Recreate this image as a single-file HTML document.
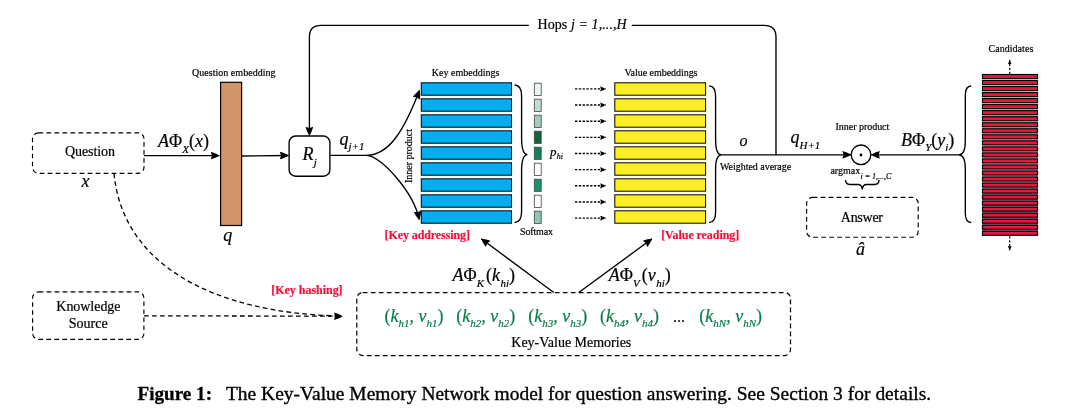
<!DOCTYPE html>
<html><head><meta charset="utf-8"><title>Figure 1</title>
<style>
html,body{margin:0;padding:0;background:#fff;}
svg{display:block;}
text{font-family:"Liberation Serif","Times New Roman",serif;fill:#000;stroke:#000;stroke-width:0.2px;}
.red{stroke:#fa0a38;stroke-width:0.15px}.g{stroke:#0d7d4d}
.s10{font-size:10px}
.s14{font-size:14px}
.red{font-size:12px;font-weight:bold;fill:#fa0a38}
.it{font-style:italic}
.m{font-size:18px}
.g{fill:#0d7d4d}
.ln{stroke:#000;stroke-width:1.35;fill:none}
.dash{stroke:#000;stroke-width:1.15;fill:none;stroke-dasharray:4.7 3.3}
.dash2{stroke:#000;stroke-width:1.3;fill:none;stroke-dasharray:4.7 3.3}
</style></head><body>
<svg width="1080" height="410" viewBox="0 0 1080 410">
<defs>
<marker id="ah" markerUnits="userSpaceOnUse" markerWidth="10" markerHeight="8" refX="8.7" refY="3.8" orient="auto"><path d="M0,0 C3,0.7 6.2,2 8.8,3.8 C6.2,5.6 3,6.9 0,7.6 L1.3,3.8 Z" fill="#000"/></marker>
<marker id="ahs" markerUnits="userSpaceOnUse" markerWidth="7" markerHeight="6" refX="5.6" refY="2.6" orient="auto"><path d="M0,0 L5.8,2.6 L0,5.2 L0.7,2.6 Z" fill="#000"/></marker>
<linearGradient id="gg" x1="0" y1="0" x2="0" y2="1"><stop offset="0" stop-color="#d4d4d4"/><stop offset="0.55" stop-color="#c4c4c4"/><stop offset="0.8" stop-color="#8c8c8c"/><stop offset="1" stop-color="#747474"/></linearGradient>
<marker id="aht" markerUnits="userSpaceOnUse" markerWidth="6" markerHeight="5" refX="4.4" refY="1.9" orient="auto"><path d="M0,0 L4.6,1.9 L0,3.8 L0.5,1.9 Z" fill="#000"/></marker>
</defs>
<rect width="1080" height="410" fill="#fff"/>

<rect x="32.5" y="132.8" width="111.5" height="40.5" rx="6" class="dash"/>
<text x="65" y="156.2" class="s14" textLength="50">Question</text>
<text x="81.5" y="187" class="m it">x</text>
<text x="158" y="147" class="m"><tspan class="it">A</tspan>Φ<tspan class="it" font-size="11" dy="5.6">X</tspan><tspan dy="-5.6">(</tspan><tspan class="it">x</tspan>)</text>
<path d="M144,155.6 L219.4,155.6" class="ln" marker-end="url(#ah)"/>
<rect x="220.6" y="82.3" width="21" height="143.2" fill="#d1956b" stroke="#000" stroke-width="1.2"/>
<text x="192" y="76" class="s10" textLength="83.5">Question embedding</text>
<text x="223.3" y="241.3" class="m it">q</text>
<path d="M242,156 L288.5,155.5" class="ln" marker-end="url(#ah)"/>
<rect x="289.1" y="136" width="40.8" height="40.2" rx="6.5" class="ln" fill="#fff"/>
<text x="302.5" y="160.1" class="m it">R<tspan font-size="11" dy="6" dx="0.2">j</tspan></text>
<text x="339.5" y="144.8" class="m it">q<tspan font-size="11" dy="5.6">j+1</tspan></text>
<path d="M330.3,155.3 L367,155.3" class="ln"/>
<path d="M366.5,155.3 C389.9,155.3 405,128.2 419.5,90.3" class="ln" marker-end="url(#ah)"/>
<path d="M366.5,155.3 C380.6,155.3 413.9,192.5 419.2,219.6" class="ln" marker-end="url(#ah)"/>
<text transform="translate(411.6,183) rotate(-90)" class="s10" textLength="54">Inner product</text>
<path d="M528.8,25.3 L321,25.3 Q309.4,25.3 309.4,37 L309.4,135.5" class="ln" marker-end="url(#ah)"/>
<path d="M631.8,25.3 L764,25.3 Q776,25.3 776,37 L776,155" class="ln"/>
<text x="537.5" y="29.4" class="s14" textLength="89.2">Hops <tspan class="it">j = 1,...,H</tspan></text>
<text x="431.8" y="75.6" class="s10" textLength="67.5">Key embeddings</text>
<rect x="421.3" y="82.80" width="90.2" height="12.4" fill="#00aeef" stroke="#000" stroke-width="1"/>
<rect x="421.3" y="98.80" width="90.2" height="12.4" fill="#00aeef" stroke="#000" stroke-width="1"/>
<rect x="421.3" y="114.80" width="90.2" height="12.4" fill="#00aeef" stroke="#000" stroke-width="1"/>
<rect x="421.3" y="130.80" width="90.2" height="12.4" fill="#00aeef" stroke="#000" stroke-width="1"/>
<rect x="421.3" y="146.80" width="90.2" height="12.4" fill="#00aeef" stroke="#000" stroke-width="1"/>
<rect x="421.3" y="162.80" width="90.2" height="12.4" fill="#00aeef" stroke="#000" stroke-width="1"/>
<rect x="421.3" y="178.80" width="90.2" height="12.4" fill="#00aeef" stroke="#000" stroke-width="1"/>
<rect x="421.3" y="194.80" width="90.2" height="12.4" fill="#00aeef" stroke="#000" stroke-width="1"/>
<rect x="421.3" y="210.80" width="90.2" height="12.4" fill="#00aeef" stroke="#000" stroke-width="1"/>
<path d="M514.6,85.0 Q521.6,85.0 521.6,96.2 L521.6,138.5 Q521.6,154.1 527.4,154.6 Q521.6,155.1 521.6,170.7 L521.6,211.3 Q521.6,222.5 514.6,222.5" class="ln"/>
<rect x="534.3" y="83.20" width="6.9" height="12.2" fill="#eaf5f0" stroke="#444" stroke-width="0.8"/>
<rect x="534.3" y="99.20" width="6.9" height="12.2" fill="#c2ddd2" stroke="#444" stroke-width="0.8"/>
<rect x="534.3" y="115.20" width="6.9" height="12.2" fill="#a3ccba" stroke="#444" stroke-width="0.8"/>
<rect x="534.3" y="131.20" width="6.9" height="12.2" fill="#0c6638" stroke="#444" stroke-width="0.8"/>
<rect x="534.3" y="147.20" width="6.9" height="12.2" fill="#0e8559" stroke="#444" stroke-width="0.8"/>
<rect x="534.3" y="163.20" width="6.9" height="12.2" fill="#ffffff" stroke="#444" stroke-width="0.8"/>
<rect x="534.3" y="179.20" width="6.9" height="12.2" fill="#1a9368" stroke="#444" stroke-width="0.8"/>
<rect x="534.3" y="195.20" width="6.9" height="12.2" fill="#ffffff" stroke="#444" stroke-width="0.8"/>
<rect x="534.3" y="211.20" width="6.9" height="12.2" fill="#8cc7ae" stroke="#444" stroke-width="0.8"/>
<text x="550" y="156.3" class="it" font-size="13">p<tspan font-size="8" dy="2.4" dx="0.3">hi</tspan></text>
<text x="520" y="234.9" class="s10" textLength="33">Softmax</text>
<path d="M575,88.90 L605.8,88.90" stroke="#000" stroke-width="1.4" stroke-dasharray="2.3 1.5" fill="none" marker-end="url(#ahs)"/>
<path d="M575,105.05 L605.8,105.05" stroke="#000" stroke-width="1.4" stroke-dasharray="2.3 1.5" fill="none" marker-end="url(#ahs)"/>
<path d="M575,121.20 L605.8,121.20" stroke="#000" stroke-width="1.4" stroke-dasharray="2.3 1.5" fill="none" marker-end="url(#ahs)"/>
<path d="M575,137.35 L605.8,137.35" stroke="#000" stroke-width="1.4" stroke-dasharray="2.3 1.5" fill="none" marker-end="url(#ahs)"/>
<path d="M575,153.50 L605.8,153.50" stroke="#000" stroke-width="1.4" stroke-dasharray="2.3 1.5" fill="none" marker-end="url(#ahs)"/>
<path d="M575,169.65 L605.8,169.65" stroke="#000" stroke-width="1.4" stroke-dasharray="2.3 1.5" fill="none" marker-end="url(#ahs)"/>
<path d="M575,185.80 L605.8,185.80" stroke="#000" stroke-width="1.4" stroke-dasharray="2.3 1.5" fill="none" marker-end="url(#ahs)"/>
<path d="M575,201.95 L605.8,201.95" stroke="#000" stroke-width="1.4" stroke-dasharray="2.3 1.5" fill="none" marker-end="url(#ahs)"/>
<path d="M575,218.10 L605.8,218.10" stroke="#000" stroke-width="1.4" stroke-dasharray="2.3 1.5" fill="none" marker-end="url(#ahs)"/>
<text x="624.5" y="75.6" class="s10" textLength="73">Value embeddings</text>
<rect x="614.8" y="82.80" width="90.8" height="12.4" fill="#fcee21" stroke="#000" stroke-width="1"/>
<rect x="614.8" y="98.80" width="90.8" height="12.4" fill="#fcee21" stroke="#000" stroke-width="1"/>
<rect x="614.8" y="114.80" width="90.8" height="12.4" fill="#fcee21" stroke="#000" stroke-width="1"/>
<rect x="614.8" y="130.80" width="90.8" height="12.4" fill="#fcee21" stroke="#000" stroke-width="1"/>
<rect x="614.8" y="146.80" width="90.8" height="12.4" fill="#fcee21" stroke="#000" stroke-width="1"/>
<rect x="614.8" y="162.80" width="90.8" height="12.4" fill="#fcee21" stroke="#000" stroke-width="1"/>
<rect x="614.8" y="178.80" width="90.8" height="12.4" fill="#fcee21" stroke="#000" stroke-width="1"/>
<rect x="614.8" y="194.80" width="90.8" height="12.4" fill="#fcee21" stroke="#000" stroke-width="1"/>
<rect x="614.8" y="210.80" width="90.8" height="12.4" fill="#fcee21" stroke="#000" stroke-width="1"/>
<path d="M709.2,86.0 Q715.6,86.0 715.6,96.2 L715.6,140.1 Q715.6,154.3 721.0,154.8 Q715.6,155.3 715.6,169.5 L715.6,212.3 Q715.6,222.5 709.2,222.5" class="ln"/>
<path d="M720.5,154.8 L851,154.8" class="ln" marker-end="url(#ah)"/>
<text x="739.6" y="145.5" class="it" font-size="16">o</text>
<text x="720" y="170" class="s10" textLength="71.2">Weighted average</text>
<text x="790.5" y="143.1" class="m it">q<tspan font-size="11" dy="6.2">H+1</tspan></text>
<circle cx="861" cy="154.8" r="9.8" class="ln" fill="#fff"/><circle cx="861" cy="155" r="1.4" fill="#000"/>
<text x="835.5" y="129.8" class="s10" textLength="53.8">Inner product</text>
<text x="830.4" y="173.6" class="s10">argmax<tspan class="it" font-size="8" dy="5.4" dx="0.3">i = 1,...,C</tspan></text>
<path d="M845.6,180 Q845.6,184.5 850,184.5 L858,184.5 Q862,184.5 862.3,189.5 Q862.6,184.5 866.6,184.5 L874.6,184.5 Q879,184.5 879,180" class="ln" stroke-width="1"/>
<rect x="806.6" y="197.4" width="111.6" height="39.8" rx="6" class="dash"/>
<text x="840.8" y="222.3" class="s14" textLength="42.2">Answer</text>
<text x="856" y="255" class="m it">â</text>
<text x="901" y="145.5" class="m"><tspan class="it">B</tspan>Φ<tspan class="it" font-size="11" dy="5.6">Y</tspan><tspan dy="-5.6">(</tspan><tspan class="it">y</tspan><tspan class="it" font-size="11" dy="5.2">i</tspan><tspan dy="-5.2">)</tspan></text>
<path d="M959.5,154.8 L871.2,154.8" class="ln" marker-end="url(#ah)"/>
<path d="M971.2,86.0 Q965.3,86.0 965.3,95.4 L965.3,141.2 Q965.3,154.3 959.0,154.8 Q965.3,155.3 965.3,168.4 L965.3,213.1 Q965.3,222.5 971.2,222.5" class="ln"/>
<text x="988.5" y="52" class="s10" textLength="44.8">Candidates</text>
<rect x="982.3" y="74.5" width="55.4" height="160.8" fill="url(#gg)"/>
<rect x="982.5" y="74.50" width="55" height="4" fill="#f0123e" stroke="#000" stroke-width="1.15"/>
<rect x="982.5" y="80.53" width="55" height="4" fill="#f0123e" stroke="#000" stroke-width="1.15"/>
<rect x="982.5" y="86.56" width="55" height="4" fill="#f0123e" stroke="#000" stroke-width="1.15"/>
<rect x="982.5" y="92.59" width="55" height="4" fill="#f0123e" stroke="#000" stroke-width="1.15"/>
<rect x="982.5" y="98.62" width="55" height="4" fill="#f0123e" stroke="#000" stroke-width="1.15"/>
<rect x="982.5" y="104.65" width="55" height="4" fill="#f0123e" stroke="#000" stroke-width="1.15"/>
<rect x="982.5" y="110.68" width="55" height="4" fill="#f0123e" stroke="#000" stroke-width="1.15"/>
<rect x="982.5" y="116.71" width="55" height="4" fill="#f0123e" stroke="#000" stroke-width="1.15"/>
<rect x="982.5" y="122.74" width="55" height="4" fill="#f0123e" stroke="#000" stroke-width="1.15"/>
<rect x="982.5" y="128.77" width="55" height="4" fill="#f0123e" stroke="#000" stroke-width="1.15"/>
<rect x="982.5" y="134.80" width="55" height="4" fill="#f0123e" stroke="#000" stroke-width="1.15"/>
<rect x="982.5" y="140.83" width="55" height="4" fill="#f0123e" stroke="#000" stroke-width="1.15"/>
<rect x="982.5" y="146.86" width="55" height="4" fill="#f0123e" stroke="#000" stroke-width="1.15"/>
<rect x="982.5" y="152.89" width="55" height="4" fill="#f0123e" stroke="#000" stroke-width="1.15"/>
<rect x="982.5" y="158.92" width="55" height="4" fill="#f0123e" stroke="#000" stroke-width="1.15"/>
<rect x="982.5" y="164.95" width="55" height="4" fill="#f0123e" stroke="#000" stroke-width="1.15"/>
<rect x="982.5" y="170.98" width="55" height="4" fill="#f0123e" stroke="#000" stroke-width="1.15"/>
<rect x="982.5" y="177.01" width="55" height="4" fill="#f0123e" stroke="#000" stroke-width="1.15"/>
<rect x="982.5" y="183.04" width="55" height="4" fill="#f0123e" stroke="#000" stroke-width="1.15"/>
<rect x="982.5" y="189.07" width="55" height="4" fill="#f0123e" stroke="#000" stroke-width="1.15"/>
<rect x="982.5" y="195.10" width="55" height="4" fill="#f0123e" stroke="#000" stroke-width="1.15"/>
<rect x="982.5" y="201.13" width="55" height="4" fill="#f0123e" stroke="#000" stroke-width="1.15"/>
<rect x="982.5" y="207.16" width="55" height="4" fill="#f0123e" stroke="#000" stroke-width="1.15"/>
<rect x="982.5" y="213.19" width="55" height="4" fill="#f0123e" stroke="#000" stroke-width="1.15"/>
<rect x="982.5" y="219.22" width="55" height="4" fill="#f0123e" stroke="#000" stroke-width="1.15"/>
<rect x="982.5" y="225.25" width="55" height="4" fill="#f0123e" stroke="#000" stroke-width="1.15"/>
<rect x="982.5" y="231.28" width="55" height="4" fill="#f0123e" stroke="#000" stroke-width="1.15"/>
<path d="M1009.7,74 L1009.7,60" stroke="#000" stroke-width="1.2" stroke-dasharray="2.3 1.7" fill="none" marker-end="url(#aht)"/>
<path d="M1009.7,236.3 L1009.7,250.3" stroke="#000" stroke-width="1.2" stroke-dasharray="2.3 1.7" fill="none" marker-end="url(#aht)"/>
<text x="384.5" y="239.1" class="red" textLength="85.5">[Key addressing]</text>
<text x="661.2" y="239.1" class="red" textLength="78">[Value reading]</text>
<text x="271.3" y="293.7" class="red" textLength="71.3">[Key hashing]</text>
<rect x="356.8" y="292.5" width="433.7" height="63" rx="6" class="dash" style="stroke-width:1.25"/>
<text x="384.5" y="322" class="m g">(<tspan class="it">k</tspan><tspan class="it" font-size="11" dy="4.8">h1</tspan><tspan dy="-4.8" class="it">, v</tspan><tspan class="it" font-size="11" dy="4.8">h1</tspan><tspan dy="-4.8">)</tspan></text>
<text x="456.3" y="322" class="m g">(<tspan class="it">k</tspan><tspan class="it" font-size="11" dy="4.8">h2</tspan><tspan dy="-4.8" class="it">, v</tspan><tspan class="it" font-size="11" dy="4.8">h2</tspan><tspan dy="-4.8">)</tspan></text>
<text x="528.3" y="322" class="m g">(<tspan class="it">k</tspan><tspan class="it" font-size="11" dy="4.8">h3</tspan><tspan dy="-4.8" class="it">, v</tspan><tspan class="it" font-size="11" dy="4.8">h3</tspan><tspan dy="-4.8">)</tspan></text>
<text x="600.0" y="322" class="m g">(<tspan class="it">k</tspan><tspan class="it" font-size="11" dy="4.8">h4</tspan><tspan dy="-4.8" class="it">, v</tspan><tspan class="it" font-size="11" dy="4.8">h4</tspan><tspan dy="-4.8">)</tspan></text>
<text x="699.3" y="322" class="m g">(<tspan class="it">k</tspan><tspan class="it" font-size="11" dy="4.8">hN</tspan><tspan dy="-4.8" class="it">, v</tspan><tspan class="it" font-size="11" dy="4.8">hN</tspan><tspan dy="-4.8">)</tspan></text>
<text x="673" y="321.8" font-size="16" style="stroke-width:0">...</text>
<text x="511.3" y="347.2" class="s14" textLength="120">Key-Value Memories</text>
<path d="M553.8,292.5 L481.3,238.8" class="ln" marker-end="url(#ah)"/>
<path d="M578.8,292.5 L652,238.8" class="ln" marker-end="url(#ah)"/>
<text x="452.5" y="281.4" class="m"><tspan class="it">A</tspan>Φ<tspan class="it" font-size="11" dy="6">K</tspan><tspan dy="-6" dx="2">(</tspan><tspan class="it">k</tspan><tspan class="it" font-size="11" dy="5.8" dx="0.5">hi</tspan><tspan dy="-5.8">)</tspan></text>
<text x="608.8" y="281.4" class="m"><tspan class="it">A</tspan>Φ<tspan class="it" font-size="11" dy="6">V</tspan><tspan dy="-6" dx="2">(</tspan><tspan class="it">v</tspan><tspan class="it" font-size="11" dy="5.8" dx="0.5">hi</tspan><tspan dy="-5.8">)</tspan></text>
<rect x="32.6" y="291.9" width="111.3" height="47.4" rx="6" class="dash"/>
<text x="56.3" y="311" class="s14" textLength="64.2">Knowledge</text>
<text x="68.8" y="327.6" class="s14" textLength="38.8">Source</text>
<path d="M144,315.8 L342.6,316.2" class="dash2" marker-end="url(#ah)"/>
<path d="M114,173.3 C122.5,265.7 215,313.2 340,316" class="dash2"/>
<text x="137.5" y="400" font-size="19.1" font-weight="bold" textLength="74.5" style="stroke-width:0.3px">Figure 1:</text>
<text x="225.9" y="400" font-size="19.45" textLength="705.3" style="stroke-width:0.35px">The Key-Value Memory Network model for question answering. See Section 3 for details.</text>
</svg></body></html>
